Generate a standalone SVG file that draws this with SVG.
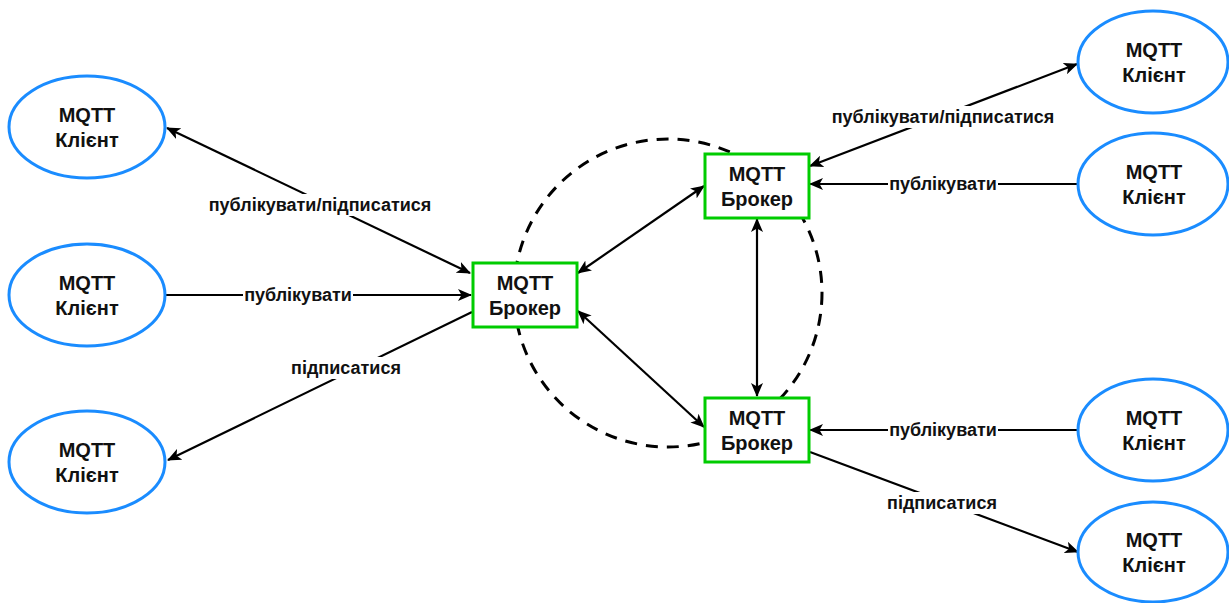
<svg xmlns="http://www.w3.org/2000/svg" width="1229" height="603" viewBox="0 0 1229 603">
<defs>
<marker id="arr" viewBox="0 0 14 12" markerWidth="14" markerHeight="12" refX="13" refY="6" orient="auto-start-reverse" markerUnits="userSpaceOnUse">
<path d="M0,0 L14,6 L0,12 L3.5,6 z" fill="#000"/>
</marker>
<style>
.client ellipse{fill:#fff;stroke:#1a8cff;stroke-width:3}
.broker rect{fill:#fff;stroke:#00cc00;stroke-width:3}
.nt{font-family:"Liberation Sans",Arial,sans-serif;font-weight:bold;font-size:20px;fill:#111;text-anchor:middle}
.edge{stroke:#000;stroke-width:2.2;fill:none}
.lbl{font-family:"Liberation Sans",Arial,sans-serif;font-weight:bold;font-size:18px;fill:#111;text-anchor:middle}
.lbg{fill:#fff}
</style>
</defs>
<rect width="1229" height="603" fill="#fff"/>
<circle id="cluster" cx="668" cy="293" r="154" fill="none" stroke="#000" stroke-width="3" stroke-dasharray="12 9"/>
<g id="connectors">
<line class="edge" x1="470" y1="273" x2="167" y2="128" marker-start="url(#arr)" marker-end="url(#arr)"/>
<line class="edge" x1="165" y1="295" x2="471" y2="295" marker-end="url(#arr)"/>
<line class="edge" x1="472" y1="312" x2="168" y2="460" marker-end="url(#arr)"/>
<line class="edge" x1="578" y1="273" x2="704" y2="186" marker-start="url(#arr)" marker-end="url(#arr)"/>
<line class="edge" x1="578" y1="311" x2="704" y2="427" marker-start="url(#arr)" marker-end="url(#arr)"/>
<line class="edge" x1="757" y1="219" x2="757" y2="396" marker-start="url(#arr)" marker-end="url(#arr)"/>
<line class="edge" x1="810" y1="166" x2="1077" y2="64" marker-start="url(#arr)" marker-end="url(#arr)"/>
<line class="edge" x1="1078" y1="184" x2="810" y2="184" marker-end="url(#arr)"/>
<line class="edge" x1="1078" y1="430" x2="810" y2="430" marker-end="url(#arr)"/>
<line class="edge" x1="810" y1="452" x2="1078" y2="552" marker-end="url(#arr)"/>
<rect class="lbg" x="207" y="194" width="226" height="22"/>
<text class="lbl" x="320" y="211">публікувати/підписатися</text>
<rect class="lbg" x="243" y="284" width="110" height="22"/>
<text class="lbl" x="298" y="301">публікувати</text>
<rect class="lbg" x="291" y="357" width="110" height="22"/>
<text class="lbl" x="346" y="374">підписатися</text>
<rect class="lbg" x="830" y="106" width="226" height="22"/>
<text class="lbl" x="943" y="123">публікувати/підписатися</text>
<rect class="lbg" x="888" y="173" width="110" height="22"/>
<text class="lbl" x="943" y="190">публікувати</text>
<rect class="lbg" x="888" y="419" width="110" height="22"/>
<text class="lbl" x="943" y="436">публікувати</text>
<rect class="lbg" x="887" y="492" width="110" height="22"/>
<text class="lbl" x="942" y="509">підписатися</text>
</g>
<g id="client-l1" class="client"><ellipse cx="87" cy="127" rx="78" ry="51"/><text class="nt" x="87" y="122">MQTT</text><text class="nt" x="87" y="147">Клієнт</text></g>
<g id="client-l2" class="client"><ellipse cx="87" cy="295" rx="78" ry="51"/><text class="nt" x="87" y="290">MQTT</text><text class="nt" x="87" y="315">Клієнт</text></g>
<g id="client-l3" class="client"><ellipse cx="87" cy="462" rx="78" ry="51"/><text class="nt" x="87" y="457">MQTT</text><text class="nt" x="87" y="482">Клієнт</text></g>
<g id="client-r1" class="client"><ellipse cx="1153" cy="62" rx="75" ry="51"/><text class="nt" x="1154" y="57">MQTT</text><text class="nt" x="1154" y="82">Клієнт</text></g>
<g id="client-r2" class="client"><ellipse cx="1153" cy="184" rx="75" ry="51"/><text class="nt" x="1154" y="179">MQTT</text><text class="nt" x="1154" y="204">Клієнт</text></g>
<g id="client-r3" class="client"><ellipse cx="1153" cy="430" rx="75" ry="51"/><text class="nt" x="1154" y="425">MQTT</text><text class="nt" x="1154" y="450">Клієнт</text></g>
<g id="client-r4" class="client"><ellipse cx="1153" cy="552" rx="75" ry="50"/><text class="nt" x="1154" y="547">MQTT</text><text class="nt" x="1154" y="572">Клієнт</text></g>
<g id="broker-left" class="broker"><rect x="473" y="263" width="104" height="64"/><text class="nt" x="525" y="290">MQTT</text><text class="nt" x="525" y="315">Брокер</text></g>
<g id="broker-top" class="broker"><rect x="705" y="154" width="104" height="64"/><text class="nt" x="757" y="181">MQTT</text><text class="nt" x="757" y="206">Брокер</text></g>
<g id="broker-bottom" class="broker"><rect x="705" y="398" width="104" height="64"/><text class="nt" x="757" y="425">MQTT</text><text class="nt" x="757" y="450">Брокер</text></g>
</svg>
